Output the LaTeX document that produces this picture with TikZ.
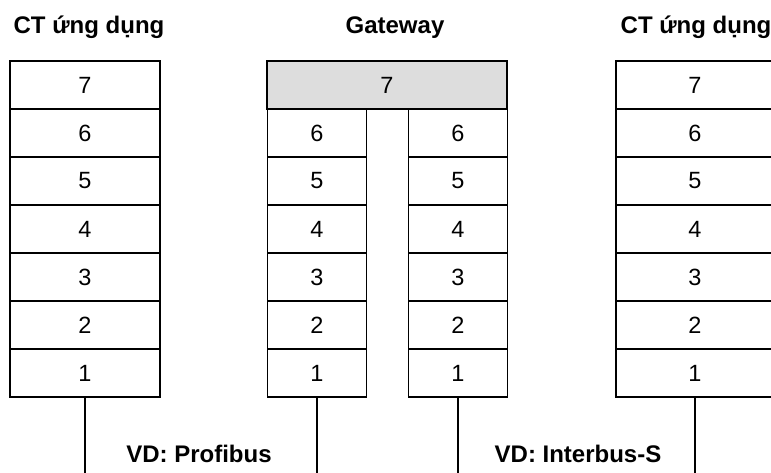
\documentclass[tikz,border=0pt]{standalone}
\usepackage{fontspec}
\setmainfont{Liberation Sans}
\usepackage{tikz}
\usetikzlibrary{positioning}
\definecolor{gwgray}{RGB}{221,221,221}

\begin{document}
\begin{tikzpicture}[x=1pt,y=-1pt,
  lay/.style={rectangle,draw=black,line width=1.2pt,fill=white,
              minimum height=48pt,inner sep=0pt,
              font=\fontsize{23.5}{27}\selectfont},
  stk/.style={lay,minimum width=150pt},
  half/.style={lay,minimum width=99pt},
  wide/.style={lay,minimum width=240pt,fill=gwgray},
  rstk/.style={lay,minimum width=158pt},
  ttl/.style={anchor=base,font=\fontsize{24}{28}\selectfont\bfseries},
  bus/.style={draw=black,line width=1.2pt},
]
\useasboundingbox (0,0) rectangle (771,472);

% Titles
\node[ttl] (tl) at (89,33)  {CT ứng dụng};
\node[ttl] (tg) at (395,33) {Gateway};
\node[ttl] (tr) at (696,33) {CT ứng dụng};

% Left stack
\node[stk] (l7) at (85,85)  {7};
\node[stk] (l6) at (85,133) {6};
\node[stk] (l5) at (85,181) {5};
\node[stk] (l4) at (85,229) {4};
\node[stk] (l3) at (85,277) {3};
\node[stk] (l2) at (85,325) {2};
\node[stk] (l1) at (85,373) {1};

% Gateway
\node[wide] (g7) at (387,85) {7};
\node[half] (ga6) at (317,133) {6};
\node[half] (ga5) at (317,181) {5};
\node[half] (ga4) at (317,229) {4};
\node[half] (ga3) at (317,277) {3};
\node[half] (ga2) at (317,325) {2};
\node[half] (ga1) at (317,373) {1};
\node[half] (gb6) at (458,133) {6};
\node[half] (gb5) at (458,181) {5};
\node[half] (gb4) at (458,229) {4};
\node[half] (gb3) at (458,277) {3};
\node[half] (gb2) at (458,325) {2};
\node[half] (gb1) at (458,373) {1};

% Right stack
\node[rstk] (r7) at (695,85)  {7};
\node[rstk] (r6) at (695,133) {6};
\node[rstk] (r5) at (695,181) {5};
\node[rstk] (r4) at (695,229) {4};
\node[rstk] (r3) at (695,277) {3};
\node[rstk] (r2) at (695,325) {2};
\node[rstk] (r1) at (695,373) {1};

% Bus lines
\coordinate (bot) at (0,480);
\draw[bus] (l1.south) -- (l1.south |- bot);
\draw[bus] (ga1.south) -- (ga1.south |- bot);
\draw[bus] (gb1.south) -- (gb1.south |- bot);
\draw[bus] (r1.south) -- (r1.south |- bot);

\node[ttl] (bp) at (199,462) {VD: Profibus};
\node[ttl] (bi) at (578,462) {VD: Interbus-S};
\end{tikzpicture}
\end{document}
